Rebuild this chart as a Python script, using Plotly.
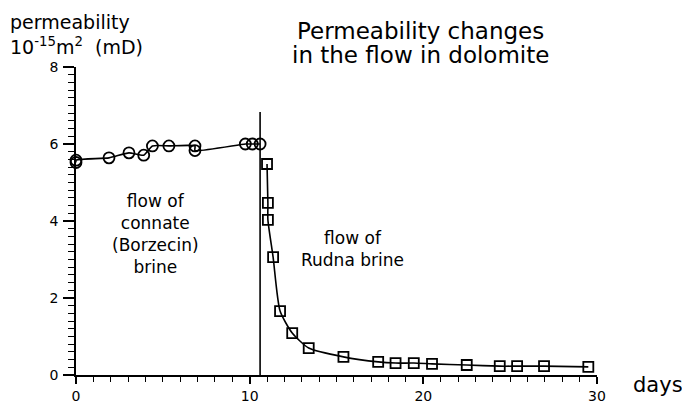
import plotly.graph_objects as go

# connate (Borzecin) brine flow - circles
days_connate = [0.0, 0.0, 1.9, 3.05, 3.9, 4.4, 5.35, 6.85, 6.85, 9.75, 10.15, 10.6]
perm_connate = [5.52, 5.58, 5.64, 5.77, 5.71, 5.95, 5.95, 5.95, 5.83, 6.0, 6.0, 6.0]

# Rudna brine flow - squares
days_rudna = [11.0, 11.05, 11.05, 11.35, 11.75, 12.45, 13.4, 15.4, 17.4, 18.4, 19.45, 20.5, 22.5, 24.4, 25.4, 26.95, 29.5]
perm_rudna = [5.48, 4.47, 4.03, 3.06, 1.66, 1.09, 0.70, 0.47, 0.34, 0.31, 0.31, 0.29, 0.26, 0.23, 0.23, 0.23, 0.21]

brine_change_day = 10.6
brine_change_top = 6.83

x_ticks = [0, 10, 20, 30]
y_ticks = [0, 2, 4, 6, 8]

FONT = "DejaVu Sans"

fig = go.Figure()
fig.add_trace(go.Scatter(
    x=days_connate, y=perm_connate, mode="lines+markers",
    line=dict(color="black", width=1.6, shape="spline", smoothing=0.5),
    marker=dict(symbol="circle-open", size=11, color="black", line=dict(width=1.8)),
    showlegend=False, cliponaxis=False))
fig.add_trace(go.Scatter(
    x=days_rudna, y=perm_rudna, mode="lines+markers",
    line=dict(color="black", width=1.6, shape="spline", smoothing=0.6),
    marker=dict(symbol="square-open", size=10, color="black", line=dict(width=1.8)),
    showlegend=False, cliponaxis=False))
fig.add_trace(go.Scatter(
    x=[brine_change_day, brine_change_day], y=[0, brine_change_top], mode="lines",
    line=dict(color="black", width=1.6), showlegend=False, hoverinfo="skip"))

fig.update_xaxes(
    range=[0, 30], tickvals=x_ticks, ticks="outside", ticklen=7, tickwidth=1.6,
    tickcolor="black", showline=True, linecolor="black", linewidth=1.8,
    showgrid=False, zeroline=False, automargin=False,
    tickfont=dict(family=FONT, size=14, color="black"),
    minor=dict(dtick=1, ticks="outside", ticklen=5, tickwidth=1.4, tickcolor="black", showgrid=False))
fig.update_yaxes(
    range=[0, 8], tickvals=y_ticks, ticks="outside", ticklen=11, tickwidth=1.6,
    tickcolor="black", showline=True, linecolor="black", linewidth=1.8,
    showgrid=False, zeroline=False, automargin=False, ticklabelstandoff=2,
    tickfont=dict(family=FONT, size=14, color="black"),
    minor=dict(dtick=0.2, ticks="outside", ticklen=6, tickwidth=1.2, tickcolor="black", showgrid=False))

ann_font = dict(family=FONT, size=17, color="black")
fig.add_annotation(x=4.55, y=3.66, xref="x", yref="y",
                   text="flow of<br>connate<br>(Borzecin)<br>brine",
                   showarrow=False, font=ann_font, align="center")
fig.add_annotation(x=15.9, y=3.27, xref="x", yref="y",
                   text="flow of<br>Rudna brine",
                   showarrow=False, font=ann_font, align="center")

# page offset: the browser body adds an 8px margin, so size the figure to fit
OFF = 8
W, H = 690 - OFF, 403 - OFF
# target plot area in window pixels
PX0, PX1, PY0, PY1 = 76, 597, 67, 375
L, T = PX0 - OFF, PY0 - OFF
R = W - (PX1 - OFF)
B = H - (PY1 - OFF)
pw, ph = PX1 - PX0, PY1 - PY0


def px(xw):
    return (xw - PX0) / pw


def py(yw):
    return (PY1 - yw) / ph


title_font = dict(family=FONT, size=23, color="black")
fig.add_annotation(x=px(420), y=py(31), xref="paper", yref="paper",
                   text="Permeability changes", showarrow=False, font=title_font,
                   xanchor="center", yanchor="middle")
fig.add_annotation(x=px(420), y=py(55), xref="paper", yref="paper",
                   text="in the flow in dolomite", showarrow=False, font=title_font,
                   xanchor="center", yanchor="middle")
fig.add_annotation(x=px(8), y=py(9), xref="paper", yref="paper",
                   text="permeability<br>10<sup>-15</sup>m<sup>2</sup>  (mD)",
                   showarrow=False, font=dict(family=FONT, size=19, color="black"),
                   align="left", xanchor="left", yanchor="top")
fig.add_annotation(x=px(658), y=py(385), xref="paper", yref="paper",
                   text="days", showarrow=False,
                   font=dict(family=FONT, size=21, color="black"),
                   xanchor="center", yanchor="middle")

fig.update_layout(
    width=W, height=H, margin=dict(l=L, r=R, t=T, b=B, autoexpand=False),
    plot_bgcolor="white", paper_bgcolor="white",
    font=dict(family=FONT, color="black"))

fig.write_html("out.html")
